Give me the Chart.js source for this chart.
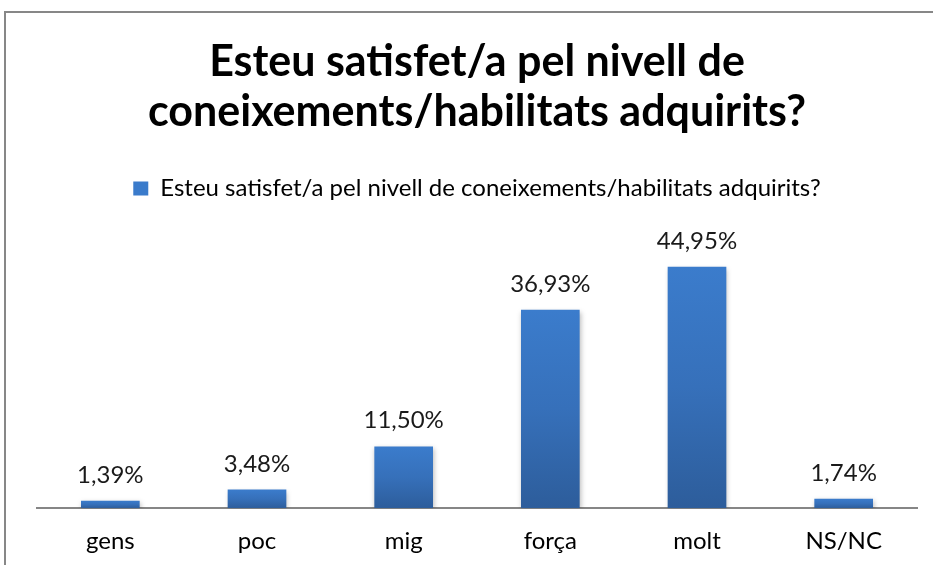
<!DOCTYPE html>
<html>
<head>
<meta charset="utf-8">
<script src="https://cdn.jsdelivr.net/npm/chart.js@4.4.1/dist/chart.umd.min.js"></script>
<style>
  html, body { margin: 0; padding: 0; background: #fff; }
  #wrap { position: relative; width: 933px; height: 565px; }
</style>
</head>
<body>
<div id="wrap"><canvas id="c" width="933" height="565"></canvas></div>
<script>
const titleLines = ["Esteu satisfet/a pel nivell de", "coneixements/habilitats adquirits?"];
const seriesName = "Esteu satisfet/a pel nivell de coneixements/habilitats adquirits?";
const categories = ["gens", "poc", "mig", "força", "molt", "NS/NC"];
const values = [1.39, 3.48, 11.50, 36.93, 44.95, 1.74];
const valueLabels = ["1,39%", "3,48%", "11,50%", "36,93%", "44,95%", "1,74%"];

const FONT = "Lato, 'Open Sans', sans-serif";

const framePlugin = {
  id: 'frame',
  beforeDraw(chart) {
    const c = chart.ctx;
    c.save();
    c.fillStyle = '#fff';
    c.fillRect(0, 0, chart.width, chart.height);
    c.strokeStyle = '#878787';
    c.lineWidth = 2;
    c.beginPath();
    c.moveTo(5, chart.height);
    c.lineTo(5, 12);
    c.lineTo(chart.width, 12);
    c.stroke();
    c.restore();
  }
};

const shadowPlugin = {
  id: 'barShadow',
  beforeDatasetDraw(chart) {
    const c = chart.ctx;
    c.save();
    c.shadowColor = 'rgba(0,0,0,0.28)';
    c.shadowBlur = 5;
    c.shadowOffsetX = 1;
    c.shadowOffsetY = 2;
  },
  afterDatasetDraw(chart) {
    chart.ctx.restore();
  }
};

const labelPlugin = {
  id: 'valueLabels',
  afterDatasetsDraw(chart) {
    const c = chart.ctx;
    const meta = chart.getDatasetMeta(0);
    c.save();
    c.font = "24px " + FONT;
    c.fillStyle = '#1a1a1a';
    c.textAlign = 'center';
    c.textBaseline = 'alphabetic';
    meta.data.forEach((bar, i) => {
      c.fillText(valueLabels[i], bar.x, bar.y - 18);
    });
    c.restore();
  }
};

function barGradient(ctx) {
  const chart = ctx.chart;
  const ys = chart.scales && chart.scales.y;
  if (!ys || ctx.type !== 'data') return '#3a7bcb';
  const v = ctx.raw;
  const top = ys.getPixelForValue(v);
  const bottom = ys.getPixelForValue(0);
  if (!isFinite(top) || !isFinite(bottom) || bottom - top < 1) return '#3a7bcb';
  const g = chart.ctx.createLinearGradient(0, top, 0, bottom);
  g.addColorStop(0, '#3b7ccc');
  g.addColorStop(0.5, '#3670ba');
  g.addColorStop(1, '#2d5d9b');
  return g;
}

new Chart(document.getElementById('c'), {
  type: 'bar',
  data: {
    labels: categories,
    datasets: [{
      label: seriesName,
      data: values,
      backgroundColor: barGradient,
      borderWidth: 0,
      barPercentage: 0.8,
      categoryPercentage: 0.5
    }]
  },
  options: {
    responsive: false,
    animation: false,
    devicePixelRatio: 1,
    layout: { padding: { left: 37, right: 16, top: 0, bottom: -10 } },
    plugins: {
      title: {
        display: true,
        text: titleLines,
        color: '#000',
        font: { family: FONT, size: 43, weight: 'bold', lineHeight: 1.17 },
        padding: { top: 37, bottom: 29 }
      },
      legend: {
        display: true,
        labels: {
          color: '#000',
          font: { family: FONT, size: 24 },
          boxWidth: 15,
          boxHeight: 14,
          padding: 10,
          generateLabels(chart) {
            return [{
              text: seriesName,
              fillStyle: '#3a7bcb',
              strokeStyle: '#3a7bcb',
              lineWidth: 0,
              hidden: false,
              datasetIndex: 0
            }];
          }
        }
      },
      tooltip: { enabled: false }
    },
    scales: {
      x: {
        grid: { display: false, drawTicks: false },
        border: { display: true, color: '#868686', width: 2 },
        ticks: { color: '#000', font: { family: FONT, size: 24 }, padding: 19 }
      },
      y: {
        display: false,
        min: 0,
        max: 55.4
      }
    }
  },
  plugins: [framePlugin, shadowPlugin, labelPlugin]
});
</script>
</body>
</html>
